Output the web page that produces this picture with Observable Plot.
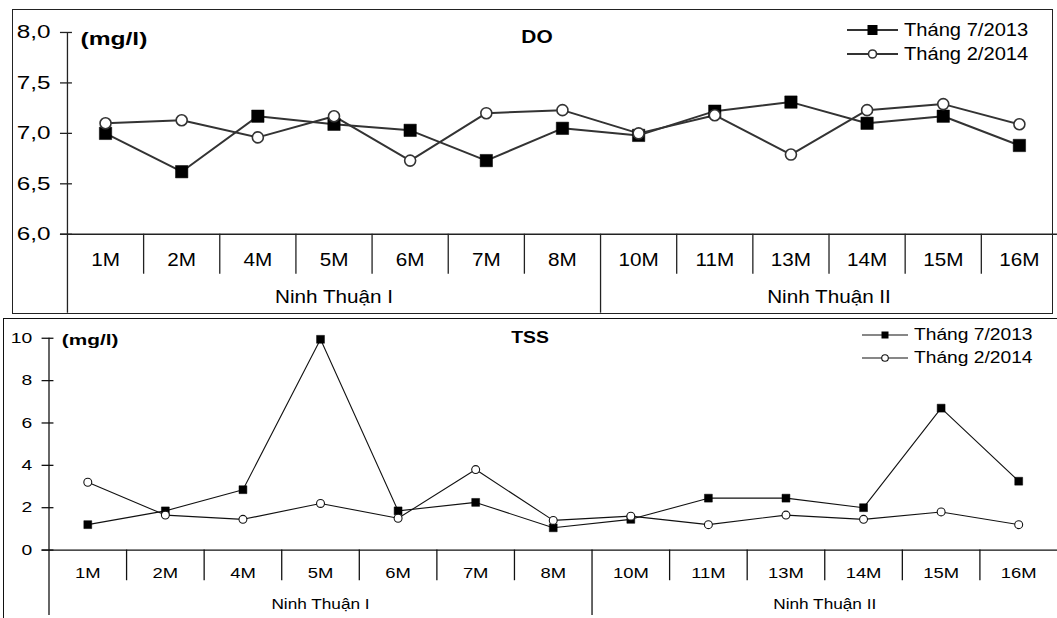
<!DOCTYPE html>
<html><head><meta charset="utf-8">
<script src="https://cdn.jsdelivr.net/npm/d3@7"></script>
<script src="https://cdn.jsdelivr.net/npm/@observablehq/plot@0.6"></script>
<style>
html,body{margin:0;padding:0;background:#fff;overflow:hidden;width:1057px;height:618px;}
#wrap{position:relative;width:1057px;height:618px;overflow:hidden;font-family:"Liberation Sans",Arial,sans-serif;color:#000;}
.panel{position:absolute;left:0;}
.panel svg{display:block;overflow:visible;}
.box{position:absolute;pointer-events:none;box-sizing:border-box;}
.legend{position:absolute;}
.legend .row{position:absolute;left:0;height:22px;white-space:nowrap;display:flex;align-items:center;}
.legend .row span{display:inline-block;transform-origin:left center;}
</style></head><body><div id="wrap"></div>
<script>
// ---- data ----
const sites = ["1M","2M","4M","5M","6M","7M","8M","10M","11M","13M","14M","15M","16M"];
const siteGroup = ["Ninh Thuận I","Ninh Thuận I","Ninh Thuận I","Ninh Thuận I","Ninh Thuận I","Ninh Thuận I","Ninh Thuận I",
                   "Ninh Thuận II","Ninh Thuận II","Ninh Thuận II","Ninh Thuận II","Ninh Thuận II","Ninh Thuận II"];
const seriesNames = ["Tháng 7/2013","Tháng 2/2014"];
const doJul2013 = [7.00,6.62,7.17,7.09,7.03,6.73,7.05,6.98,7.22,7.31,7.10,7.17,6.88];
const doFeb2014 = [7.10,7.13,6.96,7.17,6.73,7.20,7.23,7.00,7.18,6.79,7.23,7.29,7.09];
const doTicks = [6.0,6.5,7.0,7.5,8.0];
const tssJul2013 = [1.2,1.85,2.85,9.95,1.85,2.25,1.05,1.45,2.45,2.45,2.0,6.7,3.25];
const tssFeb2014 = [3.2,1.65,1.45,2.2,1.5,3.8,1.4,1.6,1.2,1.65,1.45,1.8,1.2];
const tssTicks = [0,2,4,6,8,10];
const unitLabel = "(mg/l)";

const FONT = '"Liberation Sans", Arial, sans-serif';
const wrap = document.getElementById("wrap");

function stretch(svg, scaleFor) {
  svg.querySelectorAll("text").forEach(t => {
    const s = scaleFor(t.textContent);
    const tr = t.getAttribute("transform") || "";
    t.setAttribute("transform", tr + ` scale(${s},1)`);
  });
}

function makePanel(c) {
  const n = sites.length;
  const rows = [];
  c.series.forEach((vals, s) => vals.forEach((v, i) => rows.push({idx: i, site: sites[i], s, series: seriesNames[s], value: v})));
  const inner = d3.range(1, n).filter(i => siteGroup[i] === siteGroup[i - 1]);
  const dividers = d3.range(1, n).filter(i => siteGroup[i] !== siteGroup[i - 1]);
  const groups = d3.groups(sites.map((d, i) => ({i, g: siteGroup[i]})), d => d.g)
    .map(([g, arr]) => ({g, mid: (arr[0].i + arr[arr.length - 1].i + 1) / 2}));
  const y0 = c.ticks[0], yTop = c.ticks[c.ticks.length - 1];
  const px = d => d.idx + 0.5;
  const svg = Plot.plot({
    width: c.width, height: c.height,
    marginLeft: c.marginLeft, marginRight: 0, marginTop: c.marginTop, marginBottom: c.marginBottom,
    x: {domain: [0, n], axis: null},
    y: {domain: [y0, yTop], axis: null},
    style: {fontFamily: FONT, fontSize: c.catSize + "px", color: "#000", background: "transparent", overflow: "visible"},
    marks: [
      Plot.ruleY([y0], {y: d => d, x1: 0, x2: n, stroke: c.axisColor, strokeWidth: 1.3, insetLeft: -7}),
      Plot.ruleY(c.ticks, {y: d => d, x1: 0, x2: 0, insetLeft: -7, insetRight: -5, stroke: c.axisColor, strokeWidth: 1.3}),
      Plot.ruleX([0], {y1: yTop, y2: y0, insetBottom: -c.axisExtent, stroke: c.axisColor, strokeWidth: 1.3}),
      Plot.ruleX(inner, {x: d => d, y1: y0, y2: y0, insetBottom: -c.sepLen, stroke: c.axisColor, strokeWidth: 1.3}),
      Plot.ruleX(dividers, {x: d => d, y1: y0, y2: y0, insetBottom: -c.axisExtent, stroke: c.axisColor, strokeWidth: 1.3}),
      Plot.text(c.ticks, {frameAnchor: "left", y: d => d, text: c.fmt, textAnchor: "end", dx: -c.tickPad, fontSize: c.tickSize, fill: "#000"}),
      Plot.text(sites, {x: (d, i) => i + 0.5, y: y0, text: d => d, dy: c.catDy, lineAnchor: "middle", fontSize: c.catSize, fill: "#000"}),
      Plot.text(groups, {x: "mid", y: y0, text: "g", dy: c.groupDy, lineAnchor: "middle", fontSize: c.groupSize, fill: "#000"}),
      Plot.text([c.title], {frameAnchor: "top", dx: c.titleDx, dy: c.titleDy, lineAnchor: "middle", fontSize: c.titleSize, fontWeight: "bold", fill: "#000"}),
      Plot.text([unitLabel], {frameAnchor: "top-left", textAnchor: "start", dx: c.unitDx, dy: c.unitDy, lineAnchor: "middle", fontSize: c.unitSize, fontWeight: "bold", fill: "#000"}),
      Plot.line(rows, {x: px, y: "value", z: "series", stroke: c.lineColor, strokeWidth: c.lineWidth}),
      Plot.dot(rows.filter(d => d.s === 0), {x: px, y: "value", symbol: "square", r: c.sqR, fill: "#000", stroke: "#000", strokeWidth: 0.5}),
      Plot.dot(rows.filter(d => d.s === 1), {x: px, y: "value", symbol: "circle", r: c.ciR, fill: "#fff", stroke: c.lineColor, strokeWidth: c.ciStroke})
    ]
  });
  stretch(svg, t => t === unitLabel ? c.unitScale : t === c.title ? c.titleScale : /^[\d,]+$/.test(t) ? c.tickScale : c.textScale);
  const div = document.createElement("div");
  div.className = "panel";
  div.style.top = c.top + "px";
  div.appendChild(svg);
  wrap.appendChild(div);

  // legend
  const lg = document.createElement("div");
  lg.className = "legend";
  lg.style.left = c.legend.left + "px";
  lg.style.top = "0px";
  wrap.appendChild(lg);
  seriesNames.forEach((name, s) => {
    const row = document.createElement("div");
    row.className = "row";
    row.style.top = (c.legend.rows[s] - 11) + "px";
    const L = c.legend.lineW, h = 22, m = L / 2;
    const sym = s === 0
      ? `<rect x="${m - c.legend.sq / 2}" y="${h / 2 - c.legend.sq / 2}" width="${c.legend.sq}" height="${c.legend.sq}" fill="#000"/>`
      : `<circle cx="${m}" cy="${h / 2}" r="${c.legend.ci}" fill="#fff" stroke="${c.lineColor}" stroke-width="${c.ciStroke}"/>`;
    row.innerHTML = `<svg width="${L}" height="${h}"><line x1="0" x2="${L}" y1="${h / 2}" y2="${h / 2}" stroke="${c.lineColor}" stroke-width="${c.lineWidth}"/>${sym}</svg>` +
      `<span style="margin-left:${c.legend.gap}px;font-size:${c.legend.font}px;transform:scaleX(${c.textScale})">${name}</span>`;
    lg.appendChild(row);
  });
}

// DO panel
makePanel({
  title: "DO", series: [doJul2013, doFeb2014], ticks: doTicks, fmt: d => d.toFixed(1).replace(".", ","),
  top: 0, width: 1058, height: 315, marginLeft: 67, marginTop: 32, marginBottom: 81,
  axisColor: "#222", axisExtent: 79, sepLen: 40, tickPad: 17,
  tickSize: 18, tickScale: 1.35, catSize: 18, catDy: 26, groupSize: 18, groupDy: 63, textScale: 1.15,
  title: "DO", titleSize: 19, titleScale: 1.1, titleDx: -25.5, titleDy: 4,
  unitSize: 18.5, unitScale: 1.33, unitDx: 13, unitDy: 7,
  lineColor: "#333", lineWidth: 2, sqR: 7, ciR: 5.5, ciStroke: 1.6,
  legend: {left: 847, rows: [30, 54], lineW: 51, sq: 10, ci: 4, gap: 6, font: 17.5}
});

// TSS panel
makePanel({
  title: "TSS", series: [tssJul2013, tssFeb2014], ticks: tssTicks, fmt: d => String(d),
  top: 315, width: 1068, height: 303, marginLeft: 49, marginTop: 23, marginBottom: 66,
  axisColor: "#111", axisExtent: 66, sepLen: 31, tickPad: 17,
  tickSize: 15, tickScale: 1.3, catSize: 15.5, catDy: 23, groupSize: 14.5, groupDy: 55, textScale: 1.2,
  titleSize: 17.5, titleScale: 1.12, titleDx: -23.5, titleDy: -1,
  unitSize: 14.5, unitScale: 1.45, unitDx: 13, unitDy: 2,
  lineColor: "#111", lineWidth: 1.1, sqR: 4.5, ciR: 4, ciStroke: 1.1,
  legend: {left: 862, rows: [335, 358], lineW: 46, sq: 7, ci: 3.3, gap: 6, font: 16}
});

// panel borders
const b1 = document.createElement("div");
b1.className = "box";
Object.assign(b1.style, {left: "12px", top: "9px", width: "1041px", height: "305px", border: "1.5px solid #222"});
wrap.appendChild(b1);
const b2 = document.createElement("div");
b2.className = "box";
Object.assign(b2.style, {left: "3px", top: "318px", width: "1100px", height: "400px", borderLeft: "1.5px solid #111", borderTop: "1.5px solid #111"});
wrap.appendChild(b2);
</script></body></html>
